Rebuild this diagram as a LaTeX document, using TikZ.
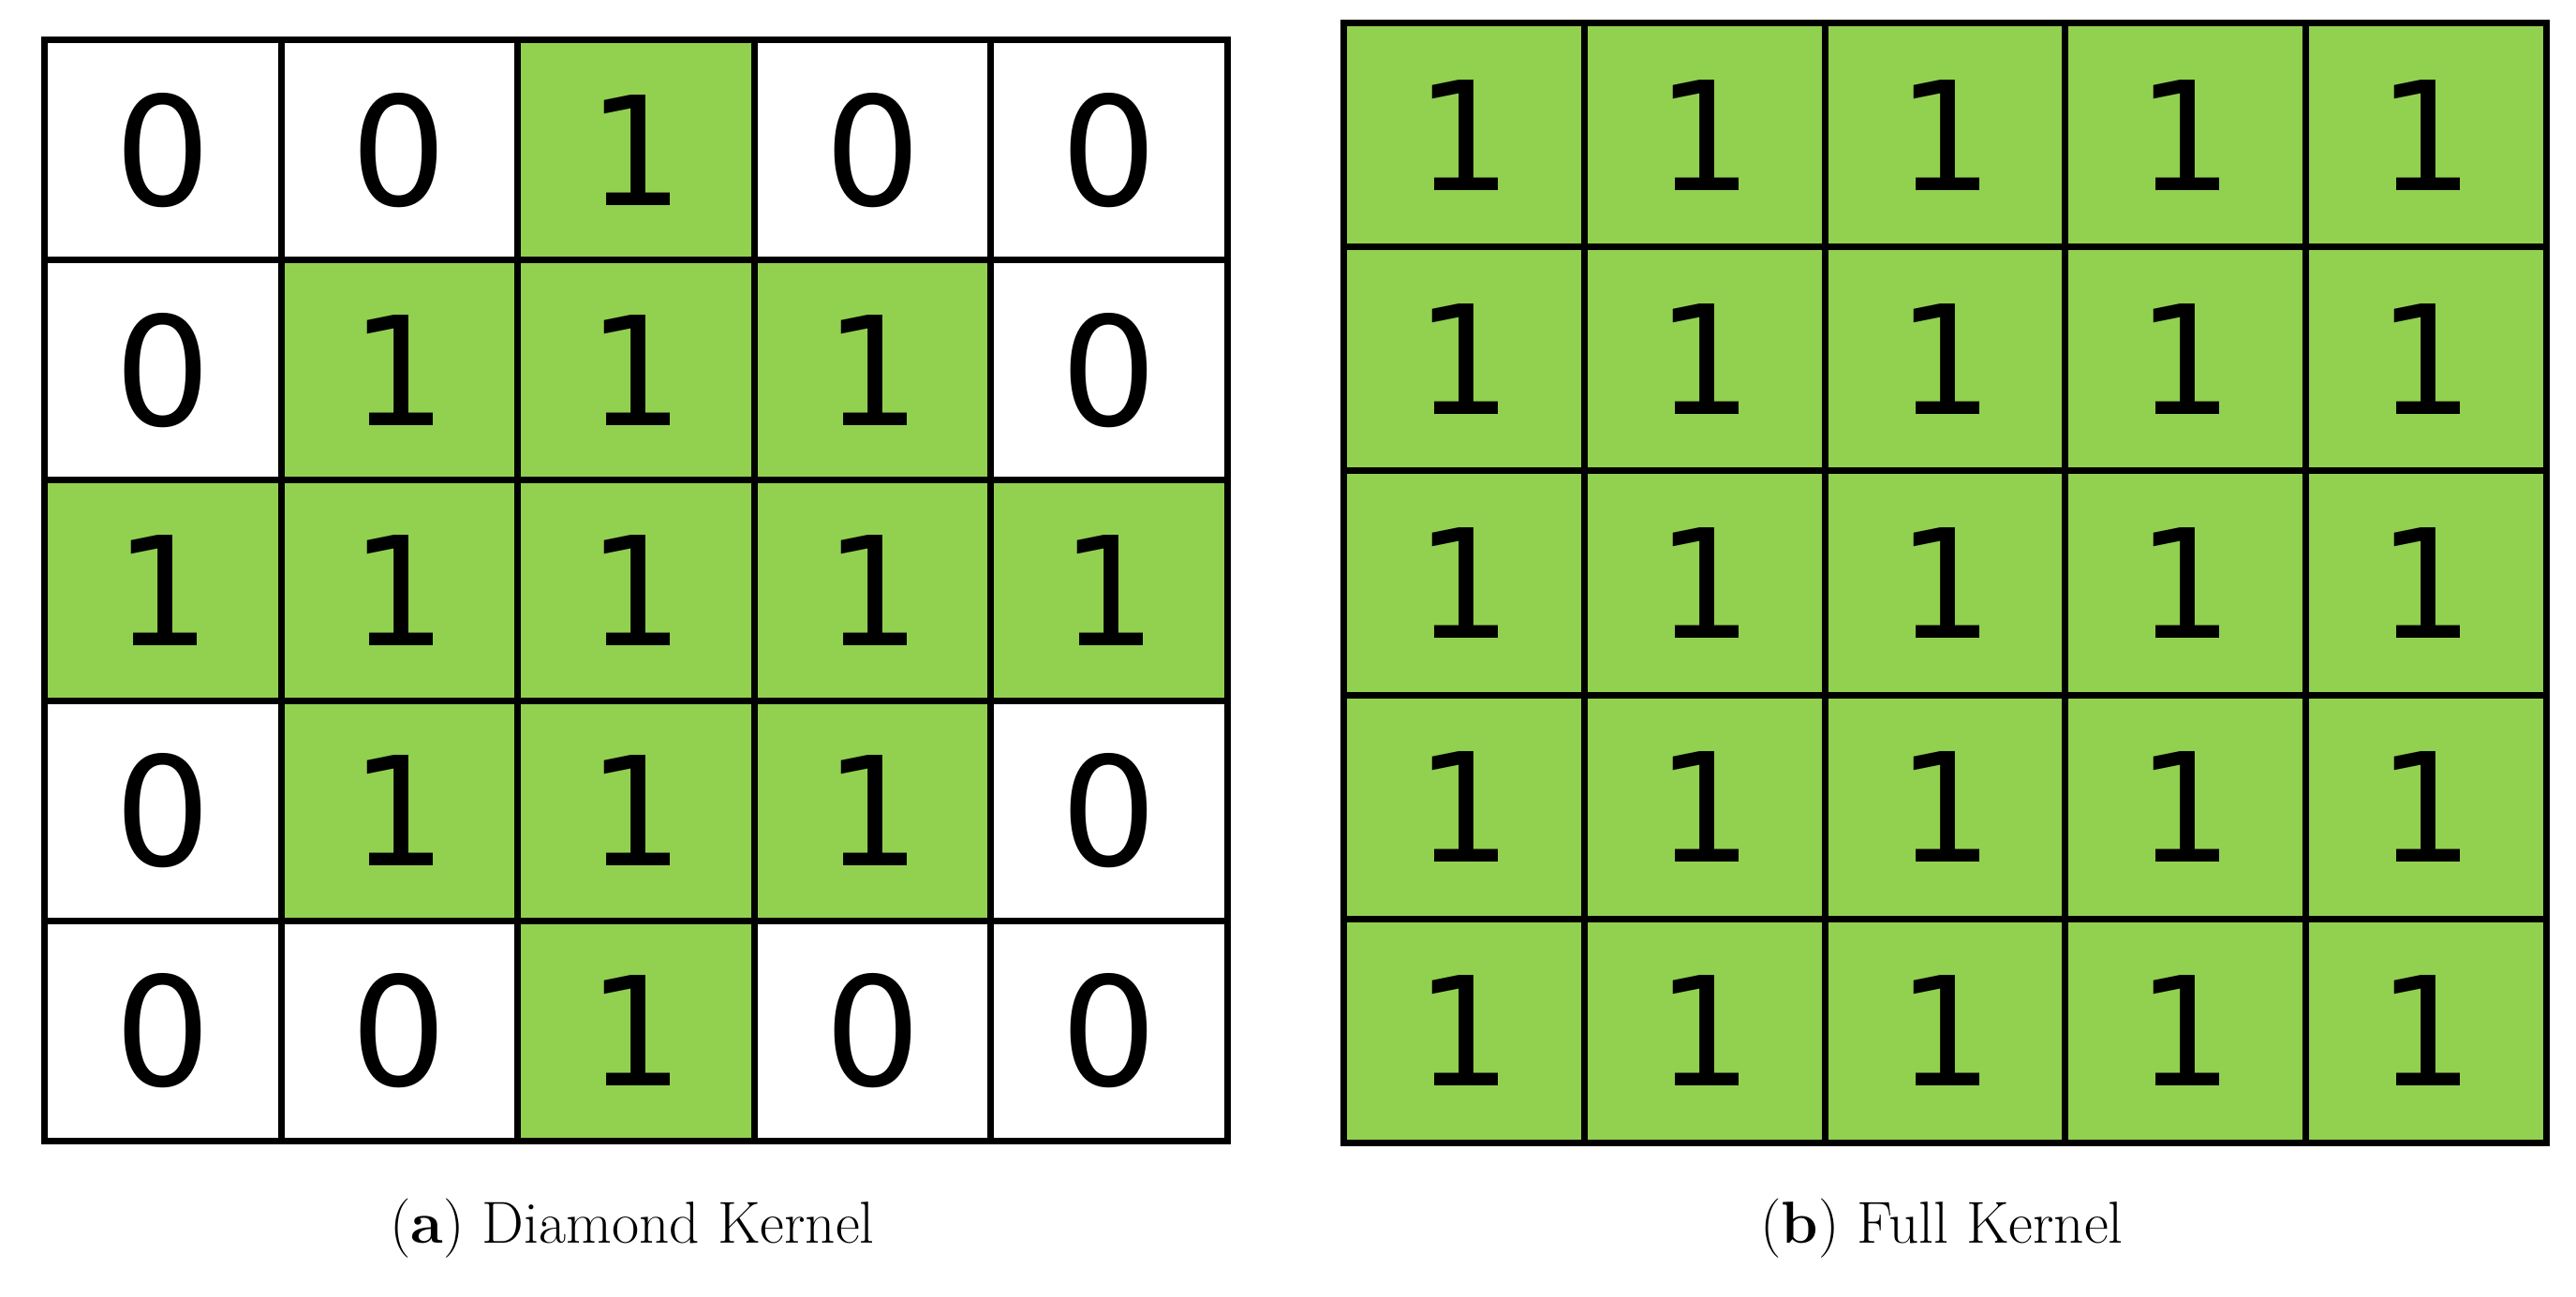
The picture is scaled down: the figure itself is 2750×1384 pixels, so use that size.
\documentclass[tikz,border=0pt]{standalone}
\usepackage{fontspec}
\newfontfamily\digitfont{DejaVu Sans}
\definecolor{kgreen}{HTML}{92D050}
\begin{document}
\begin{tikzpicture}[x=0.01cm,y=-0.01cm,
  cellbox/.style={draw=black,line width=2pt,minimum width=#1,anchor=north west,inner sep=0pt,font=\digitfont\fontsize{46}{46}\selectfont},
  capt/.style={font=\fontsize{18}{22}\selectfont}]
\useasboundingbox (0,0) rectangle (2750,1384);
% left diamond kernel
\foreach \r/\row in {0/{0,0,1,0,0},1/{0,1,1,1,0},2/{1,1,1,1,1},3/{0,1,1,1,0},4/{0,0,1,0,0}}{
  \foreach \v [count=\c from 0] in \row {
    \ifnum\v=1 \def\fc{kgreen}\else\def\fc{white}\fi
    \node[cellbox=252.6\pgfutil@empty, minimum width=252.6*0.01cm, minimum height=235.2*0.01cm, fill=\fc] (a\r\c) at ({44+252.6*\c},{39+235.2*\r}) {\v};
  }
}
% right full kernel
\foreach \r in {0,...,4}{
  \foreach \c in {0,...,4}{
    \node[cellbox=1, minimum width=256.8*0.01cm, minimum height=239.2*0.01cm, fill=kgreen] (b\r\c) at ({1431+256.8*\c},{21+239.2*\r}) {1};
  }
}
\node[capt] (capa) at (675,1312) {(\textbf{a}) Diamond Kernel};
\node[capt] (capb) at (2073,1312) {(\textbf{b}) Full Kernel};
\end{tikzpicture}
\end{document}
